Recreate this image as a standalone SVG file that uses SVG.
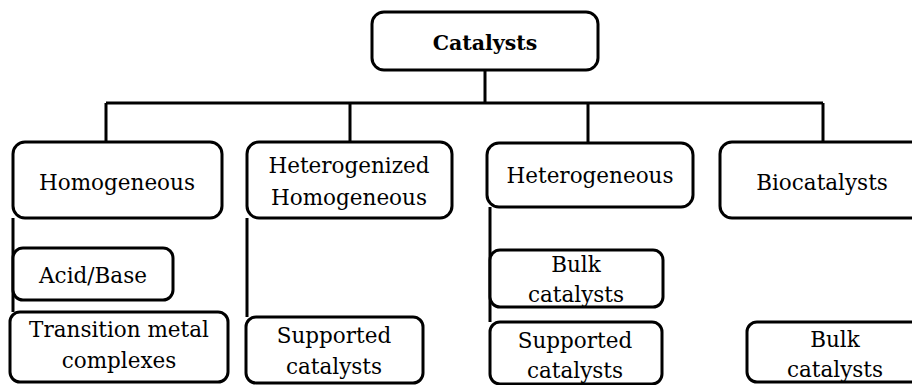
<svg xmlns="http://www.w3.org/2000/svg" width="912" height="385" viewBox="0 0 912 385">
<style>
.box{fill:#fff;stroke:#000;stroke-width:3}
.ln{fill:none;stroke:#000;stroke-width:3}
.t{font-size:21.5px;fill:#000;text-anchor:middle;font-family:"DejaVu Serif",serif}
.b{font-weight:bold;font-size:20.5px}
</style>
<rect width="912" height="385" fill="#fff"/>
<g id="connectors">
<path class="ln" d="M485 70V103M106 103H823M106 103V142M350 103V142M588 103V143M823 103V142"/>
<path class="ln" d="M13 218V312M247 218V317M490 207V322"/>
</g>
<g id="catalysts"><rect class="box" x="372" y="12" width="226" height="58" rx="12"/><text class="t b" x="485" y="50">Catalysts</text></g>
<g id="homogeneous"><rect class="box" x="13" y="142" width="209" height="76" rx="12"/><text class="t" x="117" y="190">Homogeneous</text></g>
<g id="heterogenized"><rect class="box" x="247" y="142" width="205" height="76" rx="12"/><text class="t" x="349" y="173">Heterogenized</text><text class="t" x="349" y="205">Homogeneous</text></g>
<g id="heterogeneous"><rect class="box" x="487" y="143" width="206" height="64" rx="12"/><text class="t" x="590" y="183">Heterogeneous</text></g>
<g id="biocatalysts"><rect class="box" x="720" y="142" width="205" height="76" rx="12"/><text class="t" x="822" y="190">Biocatalysts</text></g>
<g id="acidbase"><rect class="box" x="13" y="248" width="160" height="52" rx="10"/><text class="t" x="93" y="283">Acid/Base</text></g>
<g id="transition"><rect class="box" x="10" y="312" width="218" height="70" rx="10"/><text class="t" x="119" y="337">Transition metal</text><text class="t" x="119" y="368">complexes</text></g>
<g id="supported1"><rect class="box" x="246" y="317" width="177" height="66" rx="10"/><text class="t" x="334" y="343">Supported</text><text class="t" x="334" y="374">catalysts</text></g>
<g id="bulk1"><rect class="box" x="490" y="250" width="173" height="57" rx="10"/><text class="t" x="576" y="272">Bulk</text><text class="t" x="576" y="302">catalysts</text></g>
<g id="supported2"><rect class="box" x="490" y="322" width="172" height="62" rx="10"/><text class="t" x="575" y="348">Supported</text><text class="t" x="575" y="378">catalysts</text></g>
<g id="bulk2"><rect class="box" x="747" y="322" width="178" height="60" rx="10"/><text class="t" x="835" y="347">Bulk</text><text class="t" x="835" y="377">catalysts</text></g>
</svg>
